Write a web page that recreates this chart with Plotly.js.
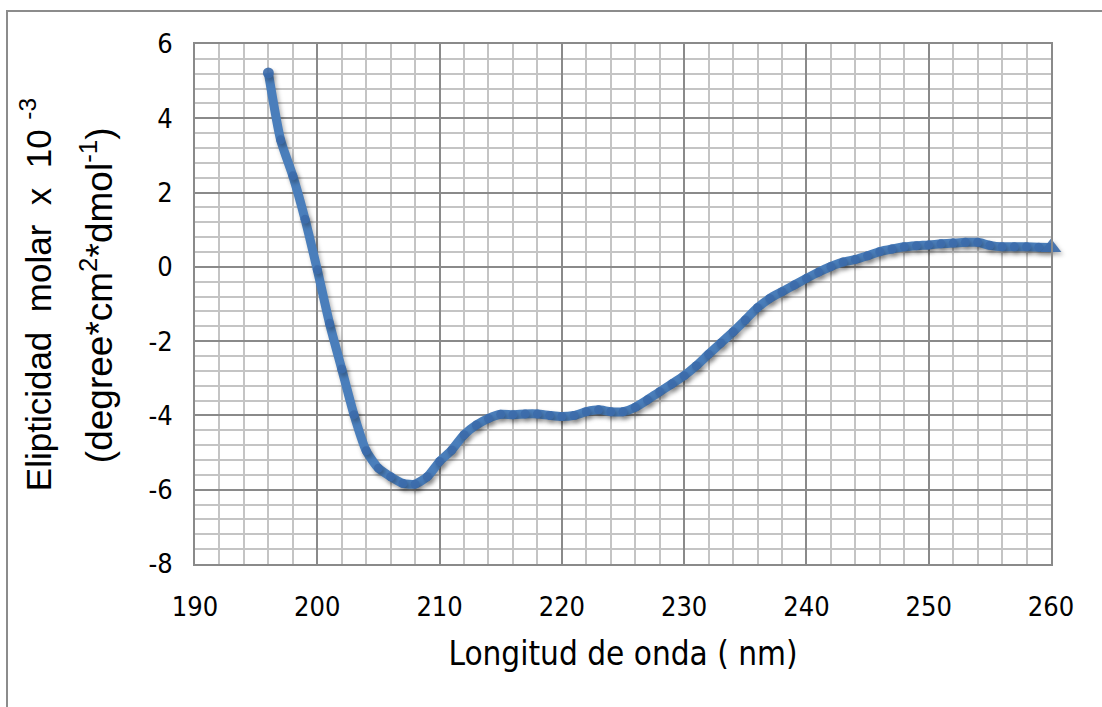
<!DOCTYPE html>
<html>
<head>
<meta charset="utf-8">
<script src="https://cdn.plot.ly/plotly-3.0.1.min.js"></script>
<style>
  html, body { margin: 0; padding: 0; background: #fff; }
  #chart { width: 1102px; height: 707px; }
  .scatterlayer .trace { filter: drop-shadow(2px 3px 2px rgba(0,0,0,0.3)); }
</style>
</head>
<body>
<div id="chart"></div>
<script>
// Wavelength (nm)
const wavelength = [196,197,198,199,200,201,202,203,204,205,206,207,208,209,210,211,212,213,214,215,216,217,218,219,220,221,222,223,224,225,226,227,228,229,230,231,232,233,234,235,236,237,238,239,240,241,242,243,244,245,246,247,248,249,250,251,252,253,254,255,256,257,258,259,260];
// Molar ellipticity x 10^-3
const ellipticity = [5.22,3.42,2.45,1.28,-0.08,-1.52,-2.75,-3.98,-4.95,-5.42,-5.65,-5.83,-5.85,-5.65,-5.24,-4.93,-4.52,-4.26,-4.08,-3.97,-3.98,-3.96,-3.96,-4.0,-4.03,-4.0,-3.9,-3.85,-3.9,-3.9,-3.78,-3.58,-3.36,-3.15,-2.93,-2.66,-2.35,-2.05,-1.75,-1.43,-1.1,-0.85,-0.67,-0.49,-0.31,-0.14,0.01,0.13,0.2,0.3,0.41,0.48,0.54,0.57,0.59,0.62,0.64,0.66,0.66,0.58,0.54,0.54,0.54,0.53,0.52];
// Axis tick labels
const xTickVals = [190,200,210,220,230,240,250,260];
const xTickText = ['190','200','210','220','230','240','250','260'];
const yTickVals = [-8,-6,-4,-2,0,2,4,6];
const yTickText = ['-8','-6','-4','-2','0','2','4','6'];
// Titles
const xTitle = 'Longitud de onda ( nm)';
const yTitleLine1 = 'Elipticidad  molar  x  10 <sup>-3</sup>';
const yTitleLine2 = '(degree*cm<sup>2</sup>*dmol<sup>-1</sup>)';

const blue = '#4a7ebb';
const last = wavelength.length - 1;
const symbols = wavelength.map((w, i) => i === last ? 'triangle-up' : 'circle');
const sizes = wavelength.map((w, i) => i === last ? 18 : (i === 0 ? 11 : 9));

const lineTrace = {
  x: wavelength,
  y: ellipticity,
  type: 'scatter',
  mode: 'lines',
  cliponaxis: false,
  line: { color: blue, width: 9, shape: 'spline', smoothing: 0.6 },
  showlegend: false
};
const markerTrace = {
  x: wavelength,
  y: ellipticity,
  type: 'scatter',
  mode: 'markers',
  cliponaxis: false,
  marker: { color: '#3c6cab', size: sizes, symbol: symbols, opacity: 0.9, line: { width: 0 } },
  showlegend: false
};

const narrow = '"DejaVu Sans Condensed", "Liberation Sans Narrow", "Liberation Sans", Arial, sans-serif';
const tickFont = { family: narrow, size: 27, color: '#000' };
const titleFont1 = { family: '"Liberation Sans", Arial, sans-serif', size: 35, color: '#000' };
const titleFont2 = { family: '"Liberation Sans", Arial, sans-serif', size: 37, color: '#000' };

const layout = {
  width: 1102,
  height: 707,
  paper_bgcolor: '#fff',
  plot_bgcolor: '#fff',
  margin: { l: 195, r: 51, t: 44, b: 143 },
  xaxis: {
    range: [190, 260],
    tickmode: 'array',
    tickvals: xTickVals,
    ticktext: xTickText,
    showgrid: true,
    gridcolor: '#8a8a8a',
    gridwidth: 2,
    zeroline: false,
    showline: true,
    linecolor: '#8a8a8a',
    linewidth: 2,
    mirror: true,
    ticks: '',
    ticklabelstandoff: 18,
    tickfont: tickFont,
    minor: { dtick: 2, tick0: 190, showgrid: true, gridcolor: '#c4c4c4', gridwidth: 2 },
    title: {
      text: xTitle,
      font: { family: narrow, size: 33, color: '#000' },
      standoff: 20
    }
  },
  yaxis: {
    range: [-8, 6],
    tickmode: 'array',
    tickvals: yTickVals,
    ticktext: yTickText,
    showgrid: true,
    gridcolor: '#8a8a8a',
    gridwidth: 2,
    zeroline: false,
    showline: true,
    linecolor: '#8a8a8a',
    linewidth: 2,
    mirror: true,
    ticks: '',
    ticklabelstandoff: 15,
    tickfont: tickFont,
    minor: { dtick: 0.4, tick0: -8, showgrid: true, gridcolor: '#c4c4c4', gridwidth: 2 }
  },
  annotations: [
    { text: yTitleLine1, xref: 'paper', yref: 'paper', x: -0.1857, y: 0.517, textangle: -90,
      showarrow: false, xanchor: 'center', yanchor: 'middle', font: titleFont1 },
    { text: yTitleLine2, xref: 'paper', yref: 'paper', x: -0.1145, y: 0.517, textangle: -90,
      showarrow: false, xanchor: 'center', yanchor: 'middle', font: titleFont2 }
  ]
};

Plotly.newPlot('chart', [lineTrace, markerTrace], layout, { displayModeBar: false, staticPlot: true }).then(() => {
  // outer chart border (Excel chart area frame), drawn in pixel space
  const svg = document.querySelector('#chart .main-svg');
  const ns = 'http://www.w3.org/2000/svg';
  const frame = document.createElementNS(ns, 'polyline');
  frame.setAttribute('points', '1102,11 7,11 7,707');
  frame.setAttribute('fill', 'none');
  frame.setAttribute('stroke', '#8c8c8c');
  frame.setAttribute('stroke-width', 2);
  svg.appendChild(frame);
});
</script>
</body>
</html>
